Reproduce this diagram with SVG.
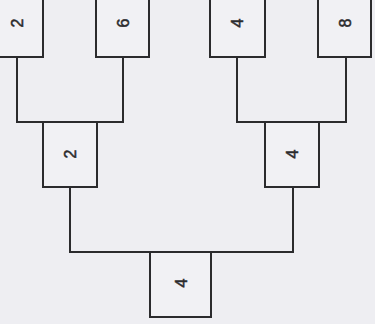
<svg xmlns="http://www.w3.org/2000/svg" width="375" height="324" viewBox="0 0 375 324">
<style>
.box{fill:#f1f1f4;stroke:#2b2b2d;stroke-width:2}
.lbl{font-family:"Liberation Sans",Arial,sans-serif;font-size:16px;fill:#2b2b2d;stroke:#2b2b2d;stroke-width:0.5;text-anchor:middle;dominant-baseline:central}
.con{fill:none;stroke:#2b2b2d;stroke-width:2}
</style>
<rect width="375" height="324" fill="#eeeef2"/>
<g id="connectors">
<path class="con" d="M17 57 V122 H123 V57"/>
<path class="con" d="M237 57 V122 H346 V57"/>
<path class="con" d="M70 187 V252 H293 V187"/>
</g>
<g id="n2top"><rect class="box" x="-9" y="-10" width="52" height="67"/><text class="lbl" transform="rotate(-90 17 23)" x="17" y="23">2</text></g>
<g id="n6top"><rect class="box" x="96" y="-10" width="53" height="67"/><text class="lbl" transform="rotate(-90 123 23)" x="123" y="23">6</text></g>
<g id="n4top"><rect class="box" x="210" y="-10" width="55" height="67"/><text class="lbl" transform="rotate(-90 237 23)" x="237" y="23">4</text></g>
<g id="n8top"><rect class="box" x="318" y="-10" width="53" height="67"/><text class="lbl" transform="rotate(-90 345 23)" x="345" y="23">8</text></g>
<g id="n2mid"><rect class="box" x="43" y="122" width="54" height="65"/><text class="lbl" transform="rotate(-90 70 154)" x="70" y="154">2</text></g>
<g id="n4mid"><rect class="box" x="265" y="122" width="54" height="65"/><text class="lbl" transform="rotate(-90 292 154)" x="292" y="154">4</text></g>
<g id="n4bot"><rect class="box" x="150" y="252" width="61" height="65"/><text class="lbl" transform="rotate(-90 181 283)" x="181" y="283">4</text></g>
</svg>
